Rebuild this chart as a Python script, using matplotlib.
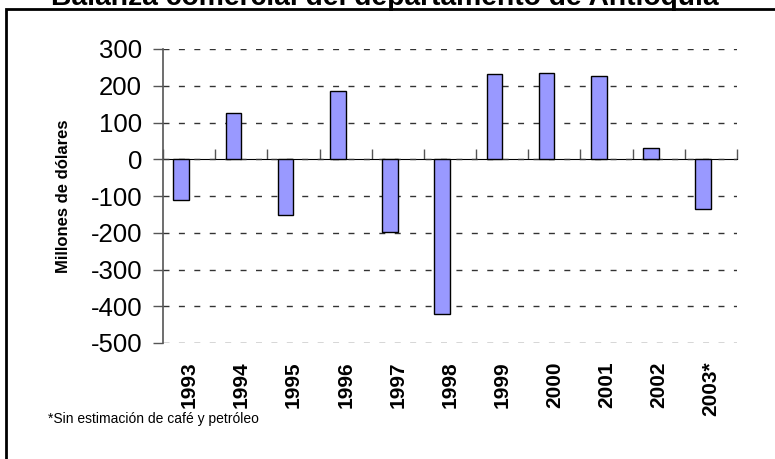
import numpy as np
import matplotlib
matplotlib.use('Agg')
import matplotlib.pyplot as plt
from matplotlib.patches import Rectangle

plt.rcParams['font.family'] = ['Liberation Sans', 'DejaVu Sans']

years = ['1993', '1994', '1995', '1996', '1997', '1998', '1999', '2000', '2001', '2002', '2003*']
balanza = [-110, 127, -152, 186, -198, -421, 232, 236, 226, 31, -135]
yticks = [300, 200, 100, 0, -100, -200, -300, -400, -500]

ymin, ymax = -500, 300

fig = plt.figure(figsize=(7.75, 4.59), dpi=100)
ax = fig.add_axes([163/775, 1-343/459, 574/775, 294/459])

x = np.arange(len(years))
ax.bar(x - 0.15, balanza, width=0.3, color='#9999FF', edgecolor='black', linewidth=1, zorder=3)

ax.set_xlim(-0.5, len(years) - 0.5)
ax.set_ylim(ymin, ymax)
ax.set_yticks(yticks)
ax.set_yticklabels([str(v) for v in yticks], fontsize=18.5)
ax.grid(axis='y', color='#333333', linestyle=(0, (4.3, 6.8)), linewidth=1, zorder=1)
ax.set_axisbelow(True)

for s in ['top', 'right', 'bottom']:
    ax.spines[s].set_visible(False)
ax.spines['left'].set_color('#555555')
ax.spines['left'].set_linewidth(1.2)
ax.tick_params(axis='y', direction='out', length=7, width=1, color='#555555', pad=8)

# year labels at the bottom, no tick marks
ax.set_xticks(x)
ax.set_xticklabels(years, rotation=90, fontsize=15, fontweight='bold', va='top')
ax.tick_params(axis='x', length=0, pad=13)

# zero line with category boundary ticks
zero_ax = ax.secondary_xaxis((0 - ymin) / (ymax - ymin))
zero_ax.set_xticks(np.arange(len(years) + 1) - 0.5)
zero_ax.set_xticklabels([])
zero_ax.spines['bottom'].set_color('black')
zero_ax.spines['bottom'].set_linewidth(1.2)
zero_ax.tick_params(direction='out', length=7, width=1, color='#555555')

ax.set_ylabel('Millones de dólares', fontsize=12, fontweight='bold', labelpad=14)

fig.text(0.496, 1 - 5/459, 'Balanza comercial del departamento de Antioquia',
         ha='center', va='baseline', fontsize=20.3, fontweight='bold')
fig.text(48/775, 1 - 419/459, '*Sin estimación de café y petróleo',
         ha='left', va='center', fontsize=10)

fig.patches.append(Rectangle((5.5/775, -0.2), 1.2, 1.2 - 8.5/459, transform=fig.transFigure,
                             fill=False, edgecolor='black', linewidth=2))

fig.savefig('out.png', dpi=100)
